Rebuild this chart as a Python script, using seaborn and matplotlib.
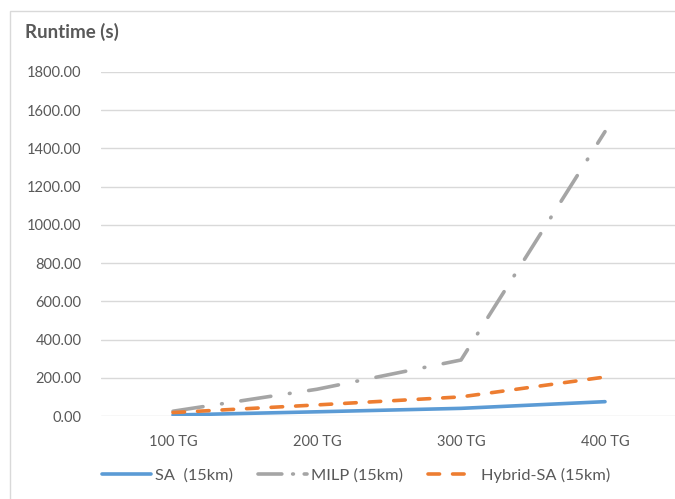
import matplotlib
matplotlib.use("Agg")
import matplotlib.pyplot as plt
from matplotlib.patches import Rectangle
from matplotlib.lines import Line2D
from matplotlib.ticker import FormatStrFormatter
import seaborn as sns
import pandas as pd

# Problem sizes (number of target groups)
categories = ["100 TG", "200 TG", "300 TG", "400 TG"]

# Runtime in seconds per method
sa_runtime = [5, 22, 40, 75]
milp_runtime = [25, 140, 293, 1488]
hybrid_runtime = [18, 58, 100, 204]

series_names = ["SA  (15km)", "MILP (15km)", "Hybrid-SA (15km)"]
y_ticks = [0, 200, 400, 600, 800, 1000, 1200, 1400, 1600, 1800]

colors = {"SA  (15km)": "#5B9BD5", "MILP (15km)": "#A5A5A5", "Hybrid-SA (15km)": "#ED7D31"}
dashes = {"SA  (15km)": "", "MILP (15km)": (8.4, 5.2, 0.2, 5.2), "Hybrid-SA (15km)": (3.2, 3.6)}
# shorter patterns so the legend keys show a full cycle
legend_dashes = {"SA  (15km)": "", "MILP (15km)": (6.6, 3.0, 0.2, 3.0), "Hybrid-SA (15km)": (3.2, 3.6)}

df = pd.DataFrame({
    "TG": categories * 3,
    "Runtime": sa_runtime + milp_runtime + hybrid_runtime,
    "Method": [series_names[0]] * 4 + [series_names[1]] * 4 + [series_names[2]] * 4,
})

sns.set_theme(style="white")
plt.rcParams["font.family"] = ["Lato", "DejaVu Sans"]
text_color = "#595959"

fig = plt.figure(figsize=(6.75, 4.99), dpi=100)
# outer chart frame
fig.patches.append(Rectangle((10 / 675, -0.05), 1.0, 1 - 11 / 499 + 0.05, transform=fig.transFigure,
                             fill=False, edgecolor="#D9D9D9", linewidth=1.0))

ax = fig.add_axes([101 / 675, 83 / 499, 576 / 675, 344 / 499])
ax.set_facecolor("none")

sns.lineplot(data=df, x="TG", y="Runtime", hue="Method", style="Method",
             palette=colors, dashes=dashes, hue_order=series_names, style_order=series_names,
             linewidth=2.6, ax=ax, legend=False, sort=False, zorder=3)
for line in ax.lines:
    line.set_dash_capstyle("round")
    line.set_solid_capstyle("round")

ax.set_xlim(-0.5, 3.5)
ax.set_ylim(0, 1800)
ax.set_yticks(y_ticks)
ax.yaxis.set_major_formatter(FormatStrFormatter("%.2f"))
ax.grid(axis="y", color="#D9D9D9", linewidth=1.0, zorder=0)
ax.grid(axis="x", visible=False)
for s in ax.spines.values():
    s.set_visible(False)
ax.tick_params(axis="both", length=0, labelsize=10.5, labelcolor=text_color)
ax.tick_params(axis="y", pad=14)
ax.tick_params(axis="x", pad=14)
ax.set_xlabel("")
ax.set_ylabel("")

fig.text(25 / 675, 1 - 32 / 499, "Runtime (s)", fontsize=13.5, fontweight="bold",
         color=text_color, ha="left", va="center")

# legend below the plot
handles = []
for name in series_names:
    h = Line2D([], [], color=colors[name], linewidth=2.6)
    if legend_dashes[name]:
        h.set_dashes(legend_dashes[name])
        h.set_dash_capstyle("round")
    handles.append(h)
leg = fig.legend(handles, series_names, loc="center", bbox_to_anchor=(356 / 675, 1 - 475 / 499),
                 ncol=3, frameon=False, fontsize=11.8, handlelength=3.0, handletextpad=0.25,
                 columnspacing=1.5, labelcolor=text_color)

fig.savefig("out.png", dpi=100)
